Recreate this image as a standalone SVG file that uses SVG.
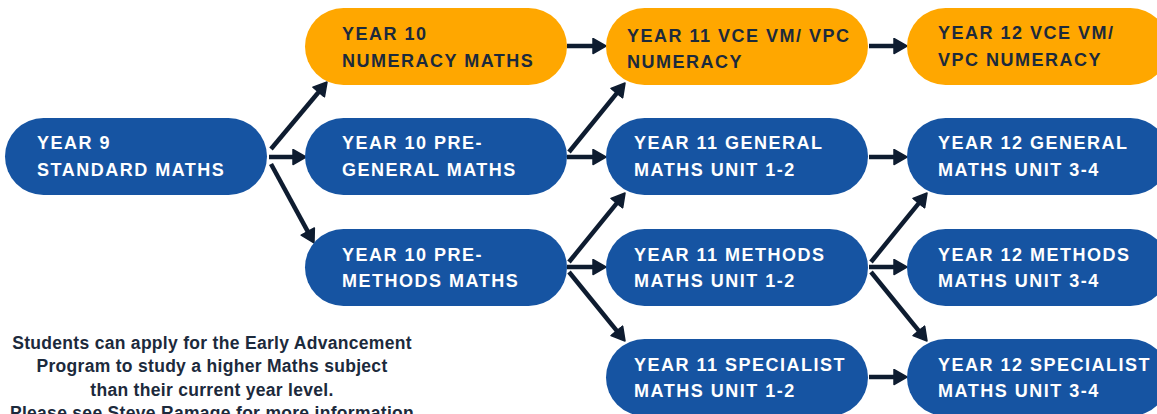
<svg xmlns="http://www.w3.org/2000/svg" width="1157" height="414" viewBox="0 0 1157 414">
<style>
.blue{fill:#1654a2}
.orange{fill:#ffa700}
.t{font-family:"Liberation Sans",Arial,sans-serif;font-weight:bold;font-size:18px;letter-spacing:1.5px}
.tw{fill:#ffffff}
.td{fill:#1c2a3c}
.note{font-family:"Liberation Sans",Arial,sans-serif;font-weight:bold;font-size:17.5px;letter-spacing:0.3px;fill:#1c2a3c;text-anchor:middle}
.c{stroke:#0e1c30;stroke-width:4.5;fill:none;marker-end:url(#ah)}
</style>
<defs>
<marker id="ah" markerUnits="userSpaceOnUse" viewBox="0 0 15 17" refX="4" refY="8.5" markerWidth="15" markerHeight="17" orient="auto">
<path d="M1,1 L14,8.5 L1,16 Z" fill="#0e1c30" stroke="#0e1c30" stroke-width="1.5" stroke-linejoin="round"/>
</marker>
</defs>
<rect width="1157" height="414" fill="#ffffff"/>
<g id="connectors">
<line class="c" x1="271" y1="149" x2="320.6" y2="89.7"/>
<line class="c" x1="269" y1="157" x2="296" y2="157"/>
<line class="c" x1="271" y1="164" x2="309.2" y2="234.2"/>
<line class="c" x1="567" y1="46" x2="596" y2="46"/>
<line class="c" x1="569" y1="152" x2="618.7" y2="90.8"/>
<line class="c" x1="567" y1="157" x2="596" y2="157"/>
<line class="c" x1="569" y1="262" x2="618.7" y2="200.8"/>
<line class="c" x1="567" y1="267" x2="596" y2="267"/>
<line class="c" x1="569" y1="272" x2="618.7" y2="333.2"/>
<line class="c" x1="869" y1="46" x2="897" y2="46"/>
<line class="c" x1="869" y1="157" x2="897" y2="157"/>
<line class="c" x1="871" y1="262" x2="920.7" y2="200.8"/>
<line class="c" x1="869" y1="267" x2="897" y2="267"/>
<line class="c" x1="871" y1="272" x2="920.7" y2="333.2"/>
<line class="c" x1="869" y1="377" x2="897" y2="377"/>
</g>
<g id="y9">
<rect class="blue" x="5" y="118" width="262" height="77" rx="38.5"/>
<text class="t tw" x="37" y="149">YEAR 9</text>
<text class="t tw" x="37" y="176">STANDARD MATHS</text>
</g>
<g id="y10num">
<rect class="orange" x="305" y="8" width="262" height="77" rx="38.5"/>
<text class="t td" x="342" y="40">YEAR 10</text>
<text class="t td" x="342" y="67">NUMERACY MATHS</text>
</g>
<g id="y10pg">
<rect class="blue" x="305" y="118" width="262" height="77" rx="38.5"/>
<text class="t tw" x="342" y="149">YEAR 10 PRE-</text>
<text class="t tw" x="342" y="176">GENERAL MATHS</text>
</g>
<g id="y10pm">
<rect class="blue" x="305" y="229" width="262" height="77" rx="38.5"/>
<text class="t tw" x="342" y="261">YEAR 10 PRE-</text>
<text class="t tw" x="342" y="287">METHODS MATHS</text>
</g>
<g id="y11vce">
<rect class="orange" x="606" y="8" width="262" height="77" rx="38.5"/>
<text class="t td" x="627" y="42">YEAR 11 VCE VM/ VPC</text>
<text class="t td" x="627" y="68">NUMERACY</text>
</g>
<g id="y11gen">
<rect class="blue" x="606" y="118" width="262" height="77" rx="38.5"/>
<text class="t tw" x="634" y="149">YEAR 11 GENERAL</text>
<text class="t tw" x="634" y="176">MATHS UNIT 1-2</text>
</g>
<g id="y11meth">
<rect class="blue" x="606" y="229" width="262" height="77" rx="38.5"/>
<text class="t tw" x="634" y="261">YEAR 11 METHODS</text>
<text class="t tw" x="634" y="287">MATHS UNIT 1-2</text>
</g>
<g id="y11spec">
<rect class="blue" x="606" y="339" width="262" height="77" rx="38.5"/>
<text class="t tw" x="634" y="371">YEAR 11 SPECIALIST</text>
<text class="t tw" x="634" y="397">MATHS UNIT 1-2</text>
</g>
<g id="y12vce">
<rect class="orange" x="907" y="8" width="262" height="77" rx="38.5"/>
<text class="t td" x="938" y="39">YEAR 12 VCE VM/</text>
<text class="t td" x="938" y="66">VPC NUMERACY</text>
</g>
<g id="y12gen">
<rect class="blue" x="907" y="118" width="262" height="77" rx="38.5"/>
<text class="t tw" x="938" y="149">YEAR 12 GENERAL</text>
<text class="t tw" x="938" y="176">MATHS UNIT 3-4</text>
</g>
<g id="y12meth">
<rect class="blue" x="907" y="229" width="262" height="77" rx="38.5"/>
<text class="t tw" x="938" y="261">YEAR 12 METHODS</text>
<text class="t tw" x="938" y="287">MATHS UNIT 3-4</text>
</g>
<g id="y12spec">
<rect class="blue" x="907" y="339" width="262" height="77" rx="38.5"/>
<text class="t tw" x="938" y="371">YEAR 12 SPECIALIST</text>
<text class="t tw" x="938" y="397">MATHS UNIT 3-4</text>
</g>
<g id="note">
<text class="note" x="212" y="348.5">Students can apply for the Early Advancement</text>
<text class="note" x="212" y="372">Program to study a higher Maths subject</text>
<text class="note" x="212" y="395.5">than their current year level.</text>
<text class="note" x="212" y="419">Please see Steve Ramage for more information</text>
</g>
</svg>
